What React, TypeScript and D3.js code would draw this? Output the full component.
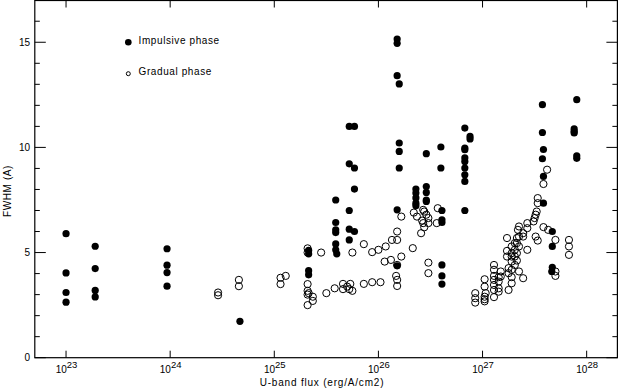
import { useEffect, useRef } from "react";
import * as d3 from "d3";

// [log10 U-band flux (erg/A/cm2), FWHM (A)]
const impulsive: [number, number][] = [
  [23.0, 5.9], [23.0, 4.03], [23.0, 3.1], [23.0, 2.64],
  [23.28, 5.3], [23.28, 4.24], [23.28, 3.2], [23.28, 2.89],
  [23.97, 5.18], [23.97, 4.4], [23.97, 4.05], [23.97, 3.4],
  [24.67, 1.73],
  [25.33, 5.1], [25.33, 4.94], [25.33, 4.14], [25.33, 3.94],
  [25.59, 7.5], [25.59, 6.43], [25.59, 6.08], [25.59, 5.95], [25.59, 5.41], [25.59, 5.13], [25.6, 4.94],
  [25.72, 11.0], [25.77, 11.0], [25.72, 9.22], [25.77, 9.02], [25.77, 8.02], [25.72, 7.0],
  [25.72, 6.11], [25.77, 6.0], [25.72, 5.6],
  [26.18, 15.15], [26.18, 14.95], [26.18, 13.41], [26.2, 13.02], [26.2, 10.21], [26.2, 9.81],
  [26.2, 9.02], [26.18, 7.03], [26.18, 4.37],
  [26.36, 8.02], [26.36, 7.83], [26.36, 7.6], [26.36, 7.35], [26.36, 7.22],
  [26.46, 9.7], [26.46, 8.14], [26.46, 7.86], [26.46, 7.5], [26.46, 7.43],
  [26.6, 10.02], [26.6, 9.02], [26.61, 7.0], [26.61, 6.56], [26.61, 6.43],
  [26.61, 4.41], [26.61, 3.89], [26.61, 3.5],
  [26.83, 10.92], [26.88, 10.52], [26.88, 10.4], [26.83, 9.97], [26.83, 9.89], [26.83, 9.5],
  [26.83, 9.33], [26.83, 9.02], [26.83, 8.7], [26.83, 8.38], [26.83, 7.0],
  [27.575, 12.03], [27.575, 10.71], [27.585, 9.9], [27.575, 9.46], [27.585, 8.62], [27.585, 7.35],
  [27.67, 6.0], [27.67, 5.29], [27.67, 4.3], [27.665, 4.1],
  [27.905, 12.27], [27.88, 10.88], [27.88, 10.76], [27.88, 10.69], [27.905, 9.6], [27.905, 9.48],
];

const gradual: [number, number][] = [
  [24.46, 3.1], [24.46, 2.97],
  [24.66, 3.7], [24.66, 3.4],
  [25.06, 3.8], [25.06, 3.5], [25.11, 3.89],
  [25.32, 5.2], [25.32, 5.0], [25.32, 3.5], [25.32, 3.18], [25.32, 3.0], [25.32, 2.5],
  [25.37, 2.9], [25.37, 2.7], [25.33, 3.07],
  [25.45, 5.0], [25.5, 3.07], [25.58, 3.3],
  [25.66, 3.51], [25.66, 3.26], [25.7, 3.38], [25.73, 3.51], [25.72, 3.26], [25.75, 3.18],
  [25.75, 5.0], [25.86, 5.4], [25.86, 3.51], [25.94, 3.59], [26.02, 3.59],
  [25.94, 5.02], [26.0, 5.13], [26.07, 5.29], [26.13, 5.6], [26.18, 5.6], [26.18, 6.0], [26.22, 6.71],
  [26.06, 4.57], [26.12, 4.65], [26.18, 4.41], [26.22, 4.81], [26.17, 3.89], [26.18, 3.7], [26.18, 3.41],
  [26.33, 5.21], [26.34, 6.9], [26.37, 6.71], [26.43, 7.03], [26.44, 6.95], [26.46, 6.8],
  [26.42, 6.52], [26.43, 6.4], [26.48, 6.64], [26.48, 6.4], [26.44, 6.2], [26.41, 5.92],
  [26.57, 7.11], [26.56, 6.4],
  [26.48, 4.52], [26.48, 4.02],
  [26.93, 3.07], [26.93, 2.83], [26.93, 2.62],
  [27.02, 3.73], [27.02, 3.38], [27.02, 2.9], [27.02, 2.78], [27.02, 2.68], [27.03, 3.07],
  [27.11, 4.41], [27.11, 4.18], [27.11, 3.89], [27.11, 3.7], [27.11, 3.46], [27.11, 3.22], [27.11, 2.88],
  [27.155, 3.83], [27.155, 3.62], [27.155, 3.3], [27.155, 3.14], [27.175, 4.1], [27.175, 3.86],
  [27.235, 5.69], [27.235, 5.08], [27.235, 4.81], [27.25, 4.26], [27.25, 4.02], [27.25, 3.22],
  [27.28, 5.29], [27.28, 4.97], [27.28, 4.81], [27.28, 4.57], [27.28, 4.18], [27.28, 3.83], [27.28, 3.54],
  [27.31, 5.45], [27.31, 5.13], [27.31, 4.81], [27.31, 4.41],
  [27.33, 5.69], [27.33, 5.45], [27.33, 4.97], [27.33, 4.62], [27.34, 6.08],
  [27.35, 6.24], [27.35, 5.76], [27.35, 5.29], [27.35, 4.1],
  [27.39, 5.92], [27.39, 5.76], [27.39, 3.78],
  [27.43, 6.4], [27.43, 6.16], [27.43, 5.13],
  [27.49, 6.48], [27.5, 6.64], [27.51, 6.8], [27.52, 6.95], [27.53, 7.35], [27.53, 7.59],
  [27.51, 5.76], [27.53, 5.57],
  [27.585, 6.21], [27.63, 6.08], [27.7, 5.6], [27.7, 4.1], [27.7, 3.89],
  [27.83, 5.6], [27.83, 5.29], [27.83, 4.89],
  [27.585, 8.26], [27.62, 8.94],
];

const decades = [23, 24, 25, 26, 27, 28];
const yMajor = [0, 5, 10, 15];
const yMinor = [1, 2, 3, 4, 6, 7, 8, 9, 11, 12, 13, 14, 16, 17];

const font = "'Liberation Sans', Arial, sans-serif";

function App() {
  const svgRef = useRef(null);

  const width = 619;
  const height = 389;
  const left = 34.8;
  const right = 617.9;
  const top = 0.2;
  const bottom = 357.7;

  useEffect(() => {
    const svg = d3.select(svgRef.current);
    svg.selectAll("*").remove();

    const x = d3.scaleLog().domain([10 ** 22.7, 10 ** 28.3]).range([left, right]);
    const y = d3.scaleLinear().domain([0, 17]).range([bottom, top]);

    svg.append("rect")
      .attr("width", width).attr("height", height).attr("fill", "white");

    // frame
    svg.append("rect")
      .attr("x", left).attr("y", 0.5)
      .attr("width", right - left - 0.5).attr("height", bottom - 0.5)
      .attr("fill", "none").attr("stroke", "black").attr("stroke-width", 1.2);

    const ticks = svg.append("g").attr("stroke", "black").attr("stroke-width", 1);

    // x ticks bottom + top
    ticks.selectAll(".xb").data(decades).join("line")
      .attr("x1", (d) => x(10 ** d)).attr("x2", (d) => x(10 ** d))
      .attr("y1", bottom).attr("y2", bottom - 7);
    ticks.selectAll(".xt").data(decades).join("line")
      .attr("x1", (d) => x(10 ** d)).attr("x2", (d) => x(10 ** d))
      .attr("y1", 0.5).attr("y2", 7.5);

    // y ticks left + right
    const yt = (vals: number[], len: number) => {
      ticks.append("g").selectAll("line").data(vals).join("line")
        .attr("x1", left).attr("x2", left + len)
        .attr("y1", (d) => y(d)).attr("y2", (d) => y(d));
      ticks.append("g").selectAll("line").data(vals).join("line")
        .attr("x1", right - 0.5).attr("x2", right - 0.5 - len)
        .attr("y1", (d) => y(d)).attr("y2", (d) => y(d));
    };
    yt(yMajor, 11);
    yt(yMinor, 5);

    // y labels
    svg.append("g").selectAll("text").data(yMajor).join("text")
      .attr("x", 30).attr("y", (d) => y(d) + 3.5)
      .attr("text-anchor", "end")
      .attr("font-family", font).attr("font-size", 10)
      .text((d) => d);

    // x labels 10^n
    const xl = svg.append("g").selectAll("text").data(decades).join("text")
      .attr("x", (d) => x(10 ** d) + 0.5).attr("y", 373)
      .attr("text-anchor", "middle")
      .attr("font-family", font).attr("font-size", 10);
    xl.append("tspan").text("10");
    xl.append("tspan").attr("dy", -5).attr("font-size", 9.5).text((d) => d);

    svg.append("text")
      .attr("x", 322).attr("y", 386)
      .attr("text-anchor", "middle")
      .attr("font-family", font).attr("font-size", 10)
      .attr("letter-spacing", 0.8)
      .text("U-band flux (erg/A/cm2)");

    svg.append("text")
      .attr("transform", "translate(11,191) rotate(-90)")
      .attr("text-anchor", "middle")
      .attr("font-family", font).attr("font-size", 10)
      .attr("letter-spacing", 0.6)
      .text("FWHM (A)");

    // data
    svg.append("g").selectAll("circle").data(gradual).join("circle")
      .attr("cx", (d) => x(10 ** d[0])).attr("cy", (d) => y(d[1]))
      .attr("r", 3.6)
      .attr("fill", "none").attr("stroke", "black").attr("stroke-width", 1);

    svg.append("g").selectAll("circle").data(impulsive).join("circle")
      .attr("cx", (d) => x(10 ** d[0])).attr("cy", (d) => y(d[1]))
      .attr("r", 3.6)
      .attr("fill", "black");

    // legend
    const legend = svg.append("g");
    legend.append("circle").attr("cx", 128.3).attr("cy", 42.3).attr("r", 3.3).attr("fill", "black");
    legend.append("circle").attr("cx", 128.3).attr("cy", 73.7).attr("r", 2)
      .attr("fill", "none").attr("stroke", "black").attr("stroke-width", 1);
    legend.selectAll("text").data(["Impulsive phase", "Gradual phase"]).join("text")
      .attr("x", 138.5).attr("y", (d, i) => (i === 0 ? 43.5 : 75))
      .attr("font-family", font).attr("font-size", 10)
      .attr("letter-spacing", 0.6)
      .text((d) => d);
  }, []);

  return (
    <svg
      ref={svgRef}
      width={width}
      height={height}
      viewBox={`0 0 ${width} ${height}`}
      style={{ position: "absolute", left: 0, top: 0 }}
    ></svg>
  );
}

export default App;
